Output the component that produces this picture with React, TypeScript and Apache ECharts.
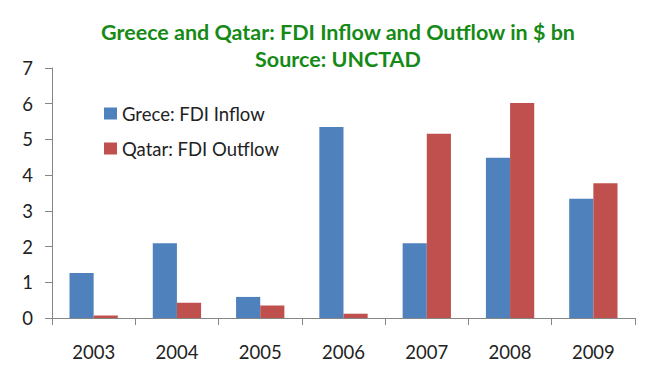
import React, { useEffect, useRef } from "react";
import * as echarts from "echarts";

const years = ["2003", "2004", "2005", "2006", "2007", "2008", "2009"];
const greeceInflow = [1.26, 2.09, 0.59, 5.35, 2.09, 4.49, 3.34];
const qatarOutflow = [0.07, 0.43, 0.35, 0.12, 5.16, 6.02, 3.77];
const seriesNames = ["Grece: FDI Inflow", "Qatar: FDI Outflow"];
const titleText = "Greece and Qatar: FDI Inflow and Outflow in $ bn\nSource: UNCTAD";

export default function App() {
  const ref = useRef<HTMLDivElement>(null);
  useEffect(() => {
    const chart = echarts.init(ref.current!, null, { renderer: "svg" });
    const font = "Lato, 'Open Sans', sans-serif";
    chart.setOption({
      animation: false,
      backgroundColor: "#ffffff",
      title: {
        text: titleText,
        left: 333,
        top: 13,
        textAlign: "center",
        textStyle: {
          fontFamily: font,
          fontWeight: "bold",
          fontSize: 21.5,
          color: "#168A16",
          lineHeight: 27,
        },
      },
      legend: {
        orient: "vertical",
        left: 99,
        top: 99,
        itemWidth: 13,
        itemHeight: 12,
        itemGap: 16,
        icon: "rect",
        textStyle: { fontFamily: font, fontSize: 18.5, color: "#222" },
        data: seriesNames,
      },
      grid: { left: 52, right: 10, top: 68, bottom: 61, containLabel: false },
      xAxis: {
        type: "category",
        data: years,
        axisLine: { lineStyle: { color: "#868686" } },
        axisTick: { show: true, length: 7, lineStyle: { color: "#868686" } },
        axisLabel: { fontFamily: font, fontSize: 18.5, color: "#222", margin: 24 },
      },
      yAxis: {
        type: "value",
        min: 0,
        max: 7,
        interval: 1,
        axisLine: { show: true, lineStyle: { color: "#868686" } },
        axisTick: { show: true, length: 7, lineStyle: { color: "#868686" } },
        splitLine: { show: false },
        axisLabel: { fontFamily: font, fontSize: 18.5, color: "#222", margin: 19 },
      },
      series: [
        {
          name: seriesNames[0],
          type: "bar",
          data: greeceInflow,
          itemStyle: { color: "#4F81BD" },
          barGap: "0%",
          barCategoryGap: "42%",
        },
        {
          name: seriesNames[1],
          type: "bar",
          data: qatarOutflow,
          itemStyle: { color: "#C0504D" },
          barGap: "0%",
          barCategoryGap: "42%",
        },
      ],
    });
    return () => chart.dispose();
  }, []);
  return <div ref={ref} style={{ width: 645, height: 379, position: "absolute", left: 0, top: 0 }} />;
}
